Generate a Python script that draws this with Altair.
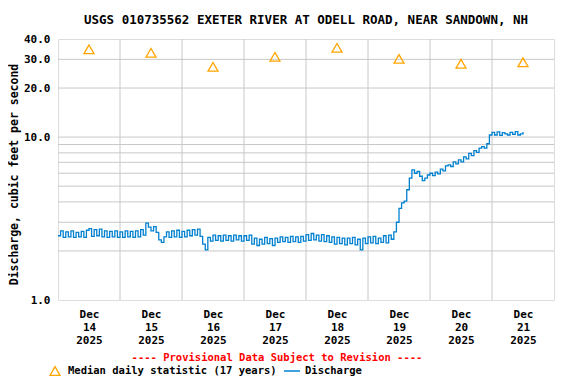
import altair as alt
import pandas as pd

title_text = "USGS 010735562 EXETER RIVER AT ODELL ROAD, NEAR SANDOWN, NH"
y_title = "Discharge, cubic feet per second"
provisional = "---- Provisional Data Subject to Revision ----"
median_label = "Median daily statistic (17 years)"
discharge_label = "Discharge"

# median daily statistic, plotted at noon of each day
median_days = ["2025-12-14T12:00:00Z", "2025-12-15T12:00:00Z", "2025-12-16T12:00:00Z",
               "2025-12-17T12:00:00Z", "2025-12-18T12:00:00Z", "2025-12-19T12:00:00Z",
               "2025-12-20T12:00:00Z", "2025-12-21T12:00:00Z"]
median_values = [34.6, 32.9, 27.0, 31.1, 35.3, 30.2, 28.2, 28.8]

# hourly discharge readings (cfs), one list per day
dec14 = [2.48, 2.66, 2.42, 2.62, 2.44, 2.66, 2.42, 2.60, 2.44, 2.64, 2.42, 2.68,
         2.74, 2.46, 2.70, 2.48, 2.72, 2.44, 2.66, 2.42, 2.64, 2.44, 2.66, 2.42]
dec15 = [2.62, 2.42, 2.66, 2.44, 2.64, 2.42, 2.66, 2.44, 2.70, 2.50, 2.96, 2.80,
         2.66, 2.82, 2.60, 2.34, 2.26, 2.44, 2.62, 2.42, 2.66, 2.44, 2.68, 2.42]
dec16 = [2.64, 2.44, 2.68, 2.48, 2.70, 2.50, 2.72, 2.46, 2.20, 2.03, 2.42, 2.30,
         2.50, 2.32, 2.48, 2.30, 2.50, 2.32, 2.48, 2.30, 2.50, 2.34, 2.48, 2.30]
dec17 = [2.48, 2.32, 2.50, 2.20, 2.40, 2.16, 2.36, 2.20, 2.42, 2.22, 2.38, 2.16,
         2.40, 2.26, 2.44, 2.28, 2.42, 2.26, 2.46, 2.28, 2.44, 2.26, 2.46, 2.30]
dec18 = [2.52, 2.32, 2.56, 2.34, 2.50, 2.30, 2.52, 2.28, 2.48, 2.26, 2.44, 2.20,
         2.42, 2.22, 2.40, 2.18, 2.40, 2.22, 2.42, 2.18, 2.36, 2.03, 2.40, 2.22]
dec19 = [2.44, 2.24, 2.46, 2.22, 2.40, 2.26, 2.48, 2.24, 2.50, 2.36, 2.62, 3.00,
         3.65, 3.95, 4.05, 4.75, 5.60, 6.30, 6.00, 6.15, 5.75, 5.40, 5.60, 5.85]
dec20 = [6.00, 5.80, 6.10, 5.95, 6.35, 6.20, 6.65, 6.75, 6.60, 7.05, 6.85, 7.25,
         7.05, 7.55, 7.35, 7.95, 7.70, 8.25, 8.05, 8.55, 8.75, 8.55, 9.10, 10.30]
dec21 = [10.70, 10.30, 10.75, 10.25, 10.65, 10.45, 10.30, 10.70, 10.40, 10.80,
         10.30, 10.45, 10.75]

discharge = dec14 + dec15 + dec16 + dec17 + dec18 + dec19 + dec20 + dec21

# gridlines
y_grid = [2, 3, 4, 5, 6, 7, 8, 9, 10, 20, 30]
x_grid = ["2025-12-15T00:00:00Z", "2025-12-16T00:00:00Z", "2025-12-17T00:00:00Z",
          "2025-12-18T00:00:00Z", "2025-12-19T00:00:00Z", "2025-12-20T00:00:00Z",
          "2025-12-21T00:00:00Z"]
y_labels = [1, 10, 20, 30, 40]

start = pd.Timestamp("2025-12-14T00:00:00Z")
times = [(start + pd.Timedelta(hours=i)).strftime("%Y-%m-%dT%H:%M:%SZ")
         for i in range(len(discharge))]

flow_df = pd.DataFrame({"time": times, "cfs": discharge})
median_df = pd.DataFrame({"time": median_days, "cfs": median_values})
ygrid_df = pd.DataFrame({"v": y_grid})
xgrid_df = pd.DataFrame({"t": x_grid})

FONT = "DejaVu Sans Mono"
ORANGE = "#FFA500"
BLUE = "#0080D0"
GRID = "#C8C8C8"

xscale = alt.Scale(type="utc", domain=[alt.DateTime(year=2025, month=12, date=14, utc=True),
                                        alt.DateTime(year=2025, month=12, date=22, utc=True)])
yscale = alt.Scale(type="log", domain=[1, 40], nice=False)

x_axis = alt.Axis(
    values=[alt.DateTime(year=2025, month=12, date=d, hours=12, utc=True) for d in range(14, 22)],
    labelExpr="[utcFormat(datum.value, '%b'), utcFormat(datum.value, '%d'), utcFormat(datum.value, '%Y')]",
    labelLineHeight=13, labelFont=FONT, labelFontSize=11, labelFontWeight="bold",
    labelColor="black", ticks=False, domain=False, grid=False, labelPadding=8,
    title=None,
)
y_axis = alt.Axis(
    values=y_labels, format=".1f", labelFont=FONT, labelFontSize=11,
    labelFontWeight="bold", labelColor="black", ticks=False, domain=False, grid=False,
    labelPadding=8, title=y_title, titleFont=FONT, titleFontSize=11.5,
    titleFontWeight="bold", titleColor="black", titleX=-44, titleY=135,
    titleBaseline="middle", titleAngle=270,
)

ygrid = alt.Chart(ygrid_df).mark_rule(color=GRID, strokeWidth=1).encode(
    y=alt.Y("v:Q", scale=yscale, axis=y_axis)
)
xgrid = alt.Chart(xgrid_df).mark_rule(color=GRID, strokeWidth=1).encode(
    x=alt.X("t:T", scale=xscale, axis=x_axis)
)
line = alt.Chart(flow_df).mark_line(color=BLUE, strokeWidth=1.3, interpolate="step-after").encode(
    x=alt.X("time:T", scale=xscale, axis=x_axis),
    y=alt.Y("cfs:Q", scale=yscale, axis=y_axis),
)
points = alt.Chart(median_df).mark_point(
    shape="triangle-up", filled=False, color=ORANGE, size=100, strokeWidth=1.3, opacity=1
).encode(
    x=alt.X("time:T", scale=xscale, axis=x_axis),
    y=alt.Y("cfs:Q", scale=yscale, axis=y_axis),
)

prov = alt.Chart(pd.DataFrame({"t": [provisional]})).mark_text(
    font=FONT, fontSize=10.5, fontWeight="bold", color="red", align="center", baseline="middle"
).encode(x=alt.value(219), y=alt.value(319), text="t:N")

leg_tri = alt.Chart(pd.DataFrame({"t": [median_label]})).mark_point(
    shape="triangle-up", filled=False, color=ORANGE, size=100, strokeWidth=1.3, opacity=1
).encode(x=alt.value(-3), y=alt.value(332))
leg_med = alt.Chart(pd.DataFrame({"t": [median_label]})).mark_text(
    font=FONT, fontSize=10.5, fontWeight="bold", color="black", align="left", baseline="middle"
).encode(x=alt.value(10), y=alt.value(332), text="t:N")
leg_line = alt.Chart(pd.DataFrame({"t": [discharge_label]})).mark_rule(
    color=BLUE, strokeWidth=1.5
).encode(x=alt.value(226), x2=alt.value(242), y=alt.value(332))
leg_dis = alt.Chart(pd.DataFrame({"t": [discharge_label]})).mark_text(
    font=FONT, fontSize=10.5, fontWeight="bold", color="black", align="left", baseline="middle"
).encode(x=alt.value(247), y=alt.value(332), text="t:N")

chart = alt.layer(
    ygrid, xgrid, line, points, prov, leg_tri, leg_med, leg_line, leg_dis
).properties(
    width=496, height=261,
    title=alt.TitleParams(title_text, font=FONT, fontSize=12.5, fontWeight="bold",
                          color="black", anchor="middle", offset=7),
    autosize=alt.AutoSizeParams(type="none"),
    padding={"left": 50, "top": 31, "right": 14, "bottom": 76},
).configure_view(
    stroke="black", strokeWidth=1.5
).configure(background="white")

chart.save("out.html", embed_options={"renderer": "svg", "actions": False})
